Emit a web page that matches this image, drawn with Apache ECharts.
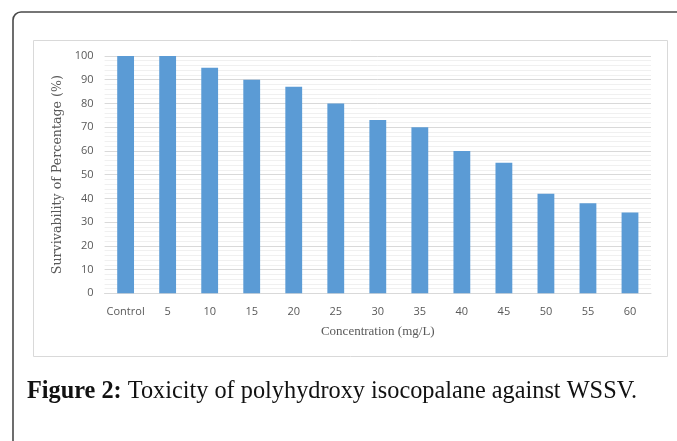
<!DOCTYPE html>
<html>
<head>
<meta charset="utf-8">
<script src="https://cdn.jsdelivr.net/npm/echarts@6/dist/echarts.min.js"></script>
<style>
html,body{margin:0;padding:0;background:#fff;}
#chart{width:677px;height:441px;}
</style>
</head>
<body>
<div id="chart"></div>
<script>
var categories = ['Control', '5', '10', '15', '20', '25', '30', '35', '40', '45', '50', '55', '60'];
var survival = [100, 100, 95, 90, 87, 80, 73, 70, 60, 55, 42, 38, 34];
var yTitle = 'Survivability of Percentage (%)';
var xTitle = 'Concentration (mg/L)';
var captionBold = 'Figure 2:';
var captionText = ' Toxicity of polyhydroxy isocopalane against WSSV.';

var chart = echarts.init(document.getElementById('chart'), null, {renderer: 'canvas'});
chart.setOption({
  backgroundColor: '#ffffff',
  animation: false,
  grid: {left: 104.6, right: 26, top: 56, bottom: 147.7, containLabel: false},
  xAxis: {
    type: 'category',
    data: categories,
    axisLine: {show: true, lineStyle: {color: '#d9d9d9', width: 1}},
    axisTick: {show: false},
    axisLabel: {color: '#595959', fontFamily: 'Open Sans', fontSize: 11, margin: 13, interval: 0},
    name: xTitle,
    nameLocation: 'middle',
    nameGap: 32,
    nameTextStyle: {color: '#595959', fontFamily: 'Liberation Serif', fontSize: 13}
  },
  yAxis: {
    type: 'value',
    min: 0, max: 100, interval: 10,
    axisLine: {show: false},
    axisTick: {show: false},
    axisLabel: {color: '#595959', fontFamily: 'Open Sans', fontSize: 11, margin: 11},
    splitLine: {show: true, lineStyle: {color: '#d9d9d9', width: 1}},
    minorTick: {show: false, splitNumber: 5},
    minorSplitLine: {show: true, lineStyle: {color: '#f0f0f0', width: 1}},
    name: yTitle,
    nameLocation: 'middle',
    nameGap: 38,
    nameTextStyle: {color: '#595959', fontFamily: 'DejaVu Serif', fontSize: 12.6}
  },
  series: [{
    type: 'bar',
    data: survival,
    barWidth: '40%',
    itemStyle: {color: '#5b9bd5'}
  }],
  graphic: [
    {type: 'rect', shape: {x: 13, y: 12, width: 720, height: 480, r: 8}, style: {fill: 'none', stroke: '#4a4a4a', lineWidth: 1.6}, z: 100},
    {type: 'rect', shape: {x: 33.5, y: 40.5, width: 634, height: 316}, style: {fill: 'none', stroke: '#d9d9d9', lineWidth: 1}, z: -1},
    {type: 'text', left: 27, top: 380,
      style: {
        text: '{b|' + captionBold + '}{n|' + captionText + '}',
        rich: {
          b: {fontFamily: 'Liberation Serif', fontWeight: 'bold', fontSize: 24.3, fill: '#111'},
          n: {fontFamily: 'Liberation Serif', fontSize: 24.3, fill: '#111'}
        }
      }, z: 100}
  ]
});
</script>
</body>
</html>
